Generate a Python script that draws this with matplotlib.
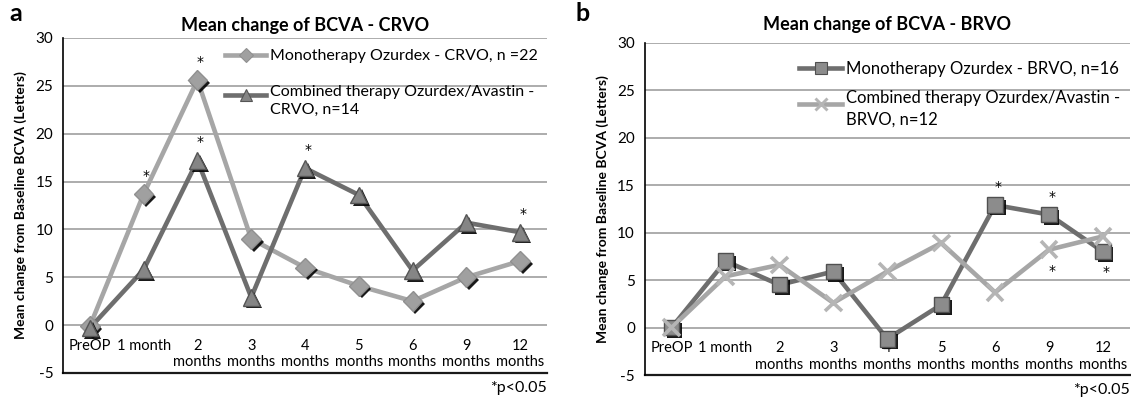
import matplotlib.pyplot as plt
import matplotlib.patheffects as pe
from matplotlib.legend_handler import HandlerLine2D
import numpy as np

plt.rcParams['font.family'] = ['Lato', 'DejaVu Sans']
plt.rcParams['axes.unicode_minus'] = False

months = ['PreOP', '1 month', '2\nmonths', '3\nmonths', '4\nmonths',
          '5\nmonths', '6\nmonths', '9\nmonths', '12\nmonths']

# panel a - CRVO
crvo_mono = [-0.1, 13.7, 25.6, 9.0, 6.0, 4.1, 2.5, 5.0, 6.7]
crvo_comb = [-0.3, 5.8, 17.2, 2.9, 16.4, 13.6, 5.7, 10.7, 9.7]
# panel b - BRVO
brvo_mono = [0.0, 7.0, 4.5, 5.9, -1.2, 2.4, 12.9, 11.9, 8.0]
brvo_comb = [0.0, 5.4, 6.6, 2.6, 5.9, 8.9, 3.7, 8.2, 9.6]

# significance stars: (index, above=+1 / below=-1)
crvo_mono_sig = [(1, 1), (2, 1)]
crvo_comb_sig = [(2, 1), (4, 1), (8, 1)]
brvo_mono_sig = [(6, 1), (7, 1), (8, -1)]
brvo_comb_sig = [(7, -1)]

x = np.arange(len(months))
shadow = [pe.SimplePatchShadow(offset=(2.0, -2.0), shadow_rgbFace='black', alpha=0.9), pe.Normal()]


class FirstLineHandler(HandlerLine2D):
    # put the legend key next to the first line of a two-line label
    def __init__(self, shift, **kw):
        super().__init__(**kw)
        self.shift = shift

    def create_artists(self, legend, orig_handle, xdescent, ydescent, width, height, fontsize, trans):
        return super().create_artists(legend, orig_handle, xdescent, ydescent - self.shift,
                                      width, height, fontsize, trans)


fig = plt.figure(figsize=(11.31, 3.97), dpi=100)
axA = fig.add_axes([0.0557, 0.0605, 0.428, 0.844])
axB = fig.add_axes([0.570, 0.0554, 0.429, 0.837])


def series(ax, y, line_c, face_c, edge_c, marker, ms, label, sig):
    mew = 2.6 if marker == 'x' else 1.0
    ax.plot(x, y, color=line_c, lw=3.3, solid_capstyle='round', zorder=3)
    ax.plot(x, y, ls='none', marker=marker, ms=ms, mfc=face_c, mec=edge_c,
            mew=mew, path_effects=shadow, zorder=4)
    key, = ax.plot([], [], color=line_c, lw=3.3, marker=marker, ms=ms * 0.75,
                   mfc=face_c, mec=edge_c, mew=mew * 0.8, label=label)
    for i, d in sig:
        ax.annotate('*', (x[i], y[i]), xytext=(2, 13 if d > 0 else -15),
                    textcoords='offset points', ha='center', va='center',
                    fontsize=10, family='DejaVu Sans')
    return key


def style(ax, title, tpad):
    ax.set_xlim(-0.5, len(months) - 0.5)
    ax.set_ylim(-5, 30)
    ax.set_yticks(range(-5, 31, 5))
    ax.set_xticks(x)
    ax.set_xticklabels(months, linespacing=1.15)
    ax.tick_params(axis='x', length=0, labelsize=10.5, pad=10)
    ax.tick_params(axis='y', length=0, labelsize=11, pad=7)
    # category labels sit just under the zero line, as in the original
    ax.spines['bottom'].set_position(('data', 0))
    ax.spines['bottom'].set_visible(False)
    for v in range(0, 31, 5):
        ax.axhline(v, color='#a6a6a6', lw=1.3, zorder=1)
    ax.axhline(-5, color='#1a1a1a', lw=1.6, zorder=2, clip_on=False)
    for s in ['top', 'right']:
        ax.spines[s].set_visible(False)
    ax.spines['left'].set_linewidth(1.2)
    ax.set_title(title, fontsize=13, fontweight='bold', pad=tpad)
    ax.set_ylabel('Mean change from Baseline BCVA (Letters)', fontsize=10,
                  fontweight='bold', labelpad=6)
    ax.text(1.0, -0.045, '*p<0.05', transform=ax.transAxes, ha='right',
            va='center', fontsize=11.5)


def legend(ax, keys, fs, anchor, spacing):
    leg = ax.legend(handles=keys, loc='upper right', bbox_to_anchor=anchor, frameon=False,
                    fontsize=fs, handlelength=2.6, labelspacing=spacing, handletextpad=0.2,
                    handler_map={keys[1]: FirstLineHandler(0.7 * fs)})
    for t in leg.get_texts():
        t.set_linespacing(1.4)


kA1 = series(axA, crvo_mono, '#a6a6a6', '#a0a0a0', '#909090', 'D', 10,
             'Monotherapy Ozurdex - CRVO, n =22', crvo_mono_sig)
kA2 = series(axA, crvo_comb, '#6e6e6e', '#858585', '#555555', '^', 12,
             'Combined therapy Ozurdex/Avastin -\nCRVO, n=14', crvo_comb_sig)
style(axA, 'Mean change of BCVA - CRVO', 5)
legend(axA, [kA1, kA2], 11.5, (1.01, 1.01), 1.35)

kB1 = series(axB, brvo_mono, '#6e6e6e', '#8c8c8c', '#505050', 's', 11,
             'Monotherapy Ozurdex - BRVO, n=16', brvo_mono_sig)
kB2 = series(axB, brvo_comb, '#a6a6a6', '#b5b5b5', '#b5b5b5', 'x', 12,
             'Combined therapy Ozurdex/Avastin -\nBRVO, n=12', brvo_comb_sig)
style(axB, 'Mean change of BCVA - BRVO', 9)
legend(axB, [kB1, kB2], 12, (1.01, 0.99), 0.8)

fig.text(0.008, 0.995, 'a', fontsize=18, fontweight='bold', va='top')
fig.text(0.509, 0.995, 'b', fontsize=18, fontweight='bold', va='top')

fig.savefig('out.png', dpi=100)
